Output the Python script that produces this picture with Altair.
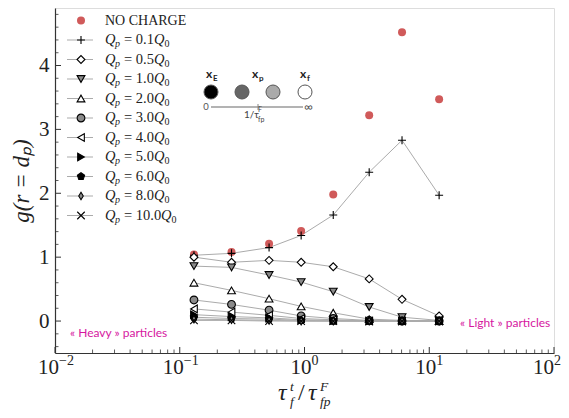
import altair as alt
import pandas as pd

# ---------------- data ----------------
x_ratio = [0.13, 0.26, 0.52, 0.94, 1.7, 3.3, 6.05, 12.0]

series_names = ["NO CHARGE", "0.1", "0.5", "1.0", "2.0", "3.0",
                "4.0", "5.0", "6.0", "8.0", "10.0"]

g_no_charge = [1.04, 1.08, 1.21, 1.41, 1.98, 3.22, 4.52, 3.47]
g_q01 = [1.03, 1.06, 1.15, 1.34, 1.66, 2.33, 2.83, 1.97]
g_q05 = [1.00, 0.92, 0.95, 0.92, 0.85, 0.66, 0.34, 0.08]
g_q10 = [0.86, 0.84, 0.72, 0.61, 0.46, 0.22, 0.06, 0.01]
g_q20 = [0.60, 0.48, 0.35, 0.23, 0.13, 0.03, 0.01, 0.00]
g_q30 = [0.33, 0.26, 0.17, 0.08, 0.04, 0.01, 0.00, 0.00]
g_q40 = [0.19, 0.14, 0.09, 0.04, 0.02, 0.00, 0.00, 0.00]
g_q50 = [0.10, 0.07, 0.05, 0.02, 0.01, 0.00, 0.00, 0.00]
g_q60 = [0.06, 0.04, 0.03, 0.01, 0.00, 0.00, 0.00, 0.00]
g_q80 = [0.03, 0.02, 0.01, 0.00, 0.00, 0.00, 0.00, 0.00]
g_q100 = [0.01, 0.01, 0.00, 0.00, 0.00, 0.00, 0.00, 0.00]

x_tick_values = [0.01, 0.1, 1, 10, 100]
x_tick_exponents = ["−2", "−1", "0", "1", "2"]
y_tick_values = [0, 1, 2, 3, 4]

all_g = [g_no_charge, g_q01, g_q05, g_q10, g_q20, g_q30,
         g_q40, g_q50, g_q60, g_q80, g_q100]

rows = []
for name, gs in zip(series_names, all_g):
    for xv, gv in zip(x_ratio, gs):
        rows.append({"series": name, "x": xv, "g": gv})
df = pd.DataFrame(rows)

# ---------------- styles ----------------
SERIF = "Liberation Serif"
SANS = "Lato"
W, H = 499, 345
XMIN, XMAX = 0.01, 100
YMIN, YMAX = -0.5, 4.9

PLUS = "M-1,0L1,0M0,-1L0,1"
XCROSS = "M-1,-1L1,1M-1,1L1,-1"
PENT = "M0,-1L0.951,-0.309L0.588,0.809L-0.588,0.809L-0.951,-0.309Z"
THIN_DIAMOND = "M0,-1L0.6,0L0,1L-0.6,0Z"
shapes = ["circle", PLUS, "diamond", "triangle-down", "triangle-up", "circle",
          "triangle-left", "triangle-right", PENT, THIN_DIAMOND, XCROSS]
fills = ["#d05a5a", "transparent", "white", "#8a8a8a", "white", "#8a8a8a",
         "white", "black", "black", "#8a8a8a", "transparent"]
strokes = ["transparent"] + ["black"] * 10
sizes = [64, 56, 90, 70, 70, 56, 70, 70, 70, 100, 40]

xscale = alt.Scale(type="log", domain=[XMIN, XMAX], nice=False)
yscale = alt.Scale(domain=[YMIN, YMAX], nice=False, zero=False)

X_AXIS = alt.Axis(
    values=x_tick_values, labels=False, ticks=False, tickSize=0,
    grid=False, title=None, domainColor="#333", domainWidth=1.2)
Y_AXIS = alt.Axis(
    values=y_tick_values, ticks=False, tickSize=0, labelFont=SERIF,
    labelFontSize=21, labelPadding=6, labelColor="#222", grid=False,
    domainColor="#333", domainWidth=1.2,
    title="g(r = dₚ)", titleFont=SERIF, titleFontStyle="italic",
    titleFontSize=23, titleFontWeight="normal", titleColor="#222",
    titlePadding=5)
X = alt.X("x:Q", scale=xscale, axis=X_AXIS)
Y = alt.Y("g:Q", scale=yscale, axis=Y_AXIS)

shape_enc = alt.Shape("series:N", scale=alt.Scale(domain=series_names, range=shapes), legend=None)
fill_enc = alt.Fill("series:N", scale=alt.Scale(domain=series_names, range=fills), legend=None)
stroke_enc = alt.Stroke("series:N", scale=alt.Scale(domain=series_names, range=strokes), legend=None)
size_enc = alt.Size("series:N", scale=alt.Scale(domain=series_names, range=sizes), legend=None)

# ---------------- data layers ----------------
lines = alt.Chart(df).transform_filter(
    alt.datum.series != "NO CHARGE"
).mark_line(color="#ababab", strokeWidth=1).encode(
    x=X, y=Y, detail="series:N", order="x:Q")

points = alt.Chart(df).mark_point(filled=True, opacity=1, strokeWidth=1.1).encode(
    x=X, y=Y, shape=shape_enc, fill=fill_enc, stroke=stroke_enc, size=size_enc)

# ---------------- inward ticks (same fields / scales / axes) ----------------
x_minor = [m * 10.0 ** k for k in range(-2, 2) for m in range(2, 10)]
y_minor = [round(-0.4 + 0.2 * i, 1) for i in range(27)]
y_minor = [v for v in y_minor if abs(v - round(v)) > 1e-9]

tick_col = "#333"
xmaj = alt.Chart(pd.DataFrame({"x": x_tick_values})).mark_rule(color=tick_col, strokeWidth=1).encode(
    x=X, y=alt.value(H), y2=alt.value(H - 6))
xmin_ = alt.Chart(pd.DataFrame({"x": x_minor})).mark_rule(color=tick_col, strokeWidth=0.8).encode(
    x=X, y=alt.value(H), y2=alt.value(H - 3.5))
ymaj = alt.Chart(pd.DataFrame({"g": y_tick_values})).mark_rule(color=tick_col, strokeWidth=1).encode(
    y=Y, x=alt.value(0), x2=alt.value(6))
ymin_ = alt.Chart(pd.DataFrame({"g": y_minor})).mark_rule(color=tick_col, strokeWidth=0.8).encode(
    y=Y, x=alt.value(0), x2=alt.value(3.5))

# ---------------- x tick labels: "10" with a raised exponent ----------------
xlab_df = pd.DataFrame({"x": x_tick_values, "e": x_tick_exponents})
xl = alt.Chart(xlab_df)
neg = xl.transform_filter("datum.x < 1")
mid = xl.transform_filter("datum.x >= 1 && datum.x < 100")
last = xl.transform_filter("datum.x >= 100")
BASE_Y, EXP_Y = H + 21, H + 12


def base_lab(src, dx):
    return src.mark_text(text="10", font=SERIF, fontSize=21, color="#222", align="right",
                         baseline="alphabetic", dx=dx).encode(x=X, y=alt.value(BASE_Y))


def exp_lab(src, dx):
    return src.mark_text(font=SERIF, fontSize=14, color="#222", align="left",
                         baseline="alphabetic", dx=dx).encode(x=X, y=alt.value(EXP_Y), text="e:N")


xlabels = [base_lab(neg, 4), exp_lab(neg, 4), base_lab(mid, 7), exp_lab(mid, 7),
           base_lab(last, 0), exp_lab(last, 0)]


def txt(text, x, y, size, font=SERIF, style="normal", weight="normal",
        color="#222", align="left", baseline="alphabetic"):
    return alt.Chart(alt.Data(values=[{}])).mark_text(
        text=text, font=font, fontSize=size, fontStyle=style, fontWeight=weight,
        color=color, align=align, baseline=baseline
    ).encode(x=alt.value(x), y=alt.value(y))


# ---------------- legend (drawn with the same scales) ----------------
leg_y = [YMAX - (12.5 + i * 19.5) / H * (YMAX - YMIN) for i in range(len(series_names))]
legend_df = pd.DataFrame({"series": series_names, "g": leg_y})

leg_lines = alt.Chart(legend_df).transform_filter(
    alt.datum.series != "NO CHARGE"
).mark_rule(color="#ababab", strokeWidth=1).encode(
    x=alt.value(12), x2=alt.value(38), y=Y)
leg_syms = alt.Chart(legend_df).mark_point(filled=True, opacity=1, strokeWidth=1.1).encode(
    x=alt.value(26), y=Y, shape=shape_enc, fill=fill_enc, stroke=stroke_enc, size=size_enc)
leg_nc = alt.Chart(legend_df).transform_filter(
    alt.datum.series == "NO CHARGE"
).mark_text(text="NO CHARGE", font=SERIF, fontSize=14, color="#222",
            align="left", baseline="middle").encode(x=alt.value(50), y=Y)
qrows = alt.Chart(legend_df).transform_filter(alt.datum.series != "NO CHARGE")
leg_q = qrows.mark_text(text="Q", font=SERIF, fontSize=14.5, fontStyle="italic", color="#222",
                        align="left", baseline="middle").encode(x=alt.value(50), y=Y)
leg_p = qrows.mark_text(text="p", font=SERIF, fontSize=10, fontStyle="italic", color="#222",
                        align="left", baseline="middle", dy=4).encode(x=alt.value(60), y=Y)
leg_eq = qrows.transform_calculate(lab="'= ' + datum.series").mark_text(
    font=SERIF, fontSize=14.5, color="#222", align="left", baseline="middle"
).encode(x=alt.value(69), y=Y, text="lab:N")
short = qrows.transform_filter("length(datum.series) == 3")
longr = qrows.transform_filter("length(datum.series) == 4")
leg_q2a = short.mark_text(text="Q", font=SERIF, fontSize=14.5, fontStyle="italic", color="#222",
                          align="left", baseline="middle").encode(x=alt.value(99), y=Y)
leg_q2b = longr.mark_text(text="Q", font=SERIF, fontSize=14.5, fontStyle="italic", color="#222",
                          align="left", baseline="middle").encode(x=alt.value(106), y=Y)
leg_0a = short.mark_text(text="0", font=SERIF, fontSize=10, color="#222",
                         align="left", baseline="middle", dy=4).encode(x=alt.value(109.5), y=Y)
leg_0b = longr.mark_text(text="0", font=SERIF, fontSize=10, color="#222",
                         align="left", baseline="middle", dy=4).encode(x=alt.value(116.5), y=Y)

# ---------------- x axis title composed from pieces ----------------
title_parts = [
    txt("τ", 223, 392, 24, style="italic"),
    txt("t", 235, 383, 13.5, style="italic"),
    txt("f", 235, 398, 13.5, style="italic"),
    txt("/", 243, 392, 24),
    txt("τ", 253, 392, 24, style="italic"),
    txt("F", 265, 383, 13.5, style="italic"),
    txt("fp", 265, 398, 13.5, style="italic"),
]

# ---------------- inset schematic ----------------
ox, oy = 55, 8
inset = []
for cx, col in zip([211, 242, 273, 305], ["#000000", "#666666", "#aaaaaa", "#ffffff"]):
    inset.append(alt.Chart(alt.Data(values=[{}])).mark_point(
        shape="circle", size=196, filled=True, fill=col, stroke="#555", strokeWidth=1, opacity=1
    ).encode(x=alt.value(cx - ox), y=alt.value(92 - oy)))
inset.append(alt.Chart(alt.Data(values=[{}])).mark_rule(color="#9a9a9a", strokeWidth=1.5).encode(
    x=alt.value(211 - ox), x2=alt.value(303 - ox), y=alt.value(107 - oy)))
inset.append(alt.Chart(alt.Data(values=[{}])).mark_rule(color="#888", strokeWidth=1).encode(
    x=alt.value(258 - ox), y=alt.value(104 - oy), y2=alt.value(110 - oy)))
inset += [
    txt("x", 206 - ox, 78 - oy, 12, font=SANS, weight="bold"),
    txt("E", 213 - ox, 81 - oy, 8, font=SANS, weight="bold"),
    txt("x", 252 - ox, 78 - oy, 12, font=SANS, weight="bold"),
    txt("p", 259 - ox, 81 - oy, 8, font=SANS, weight="bold"),
    txt("x", 300 - ox, 78 - oy, 12, font=SANS, weight="bold"),
    txt("f", 307 - ox, 81 - oy, 8, font=SANS, weight="bold"),
    txt("0", 206 - ox, 107 - oy, 9.5, font=SANS, color="#555", align="center", baseline="middle"),
    txt("∞", 304 - ox, 107 - oy, 12, font=SANS, color="#555", baseline="middle"),
    txt("1/τ", 244 - ox, 118 - oy, 10, font=SANS, color="#444"),
    txt("F", 258 - ox, 112 - oy, 7, font=SANS, color="#444"),
    txt("fp", 258 - ox, 122 - oy, 7, font=SANS, color="#444"),
]

# ---------------- side annotations ----------------
MAG = "#d6179f"
notes = [
    txt("« Heavy » particles", 70 - ox, 333 - oy, 12, font=SANS, color=MAG, baseline="middle"),
    txt("« Light » particles", 460 - ox, 323 - oy, 12, font=SANS, color=MAG, baseline="middle"),
]

chart = alt.layer(
    lines, points, xmaj, xmin_, ymaj, ymin_, *xlabels,
    leg_lines, leg_syms, leg_nc, leg_q, leg_p, leg_eq, leg_q2a, leg_q2b, leg_0a, leg_0b,
    *title_parts, *inset, *notes
).properties(
    width=W, height=H,
    padding={"left": 47, "top": 0, "right": 7, "bottom": 57},
    autosize=alt.AutoSizeParams(type="none"),
).configure_view(stroke=None).configure(background="white")

chart.save("out.html", embed_options={"renderer": "svg", "actions": False})
